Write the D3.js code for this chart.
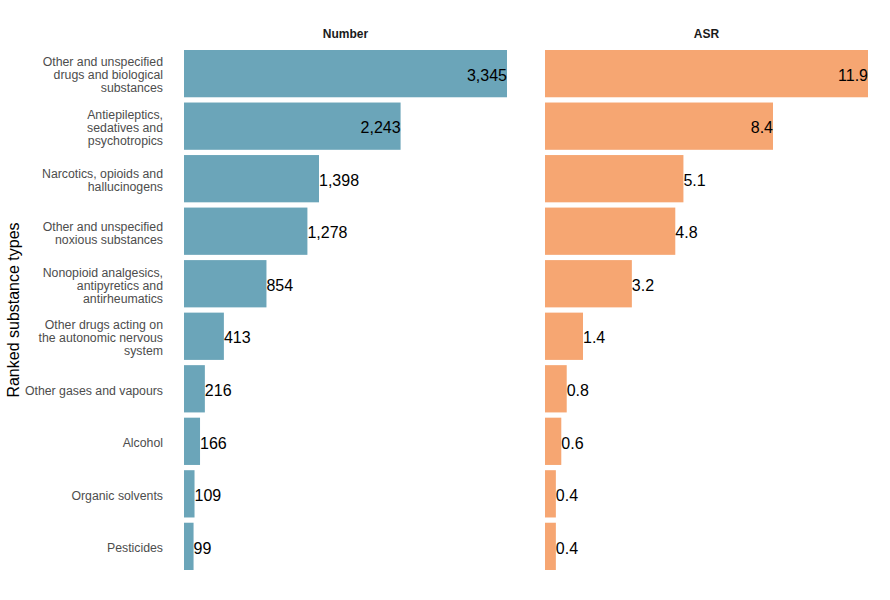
<!DOCTYPE html>
<html>
<head>
<meta charset="utf-8">
<script src="https://cdn.jsdelivr.net/npm/d3@7"></script>
<style>
  body { margin: 0; background: #fff; }
  text { font-family: "Liberation Sans", Arial, sans-serif; }
</style>
</head>
<body>
<div id="main"></div>
<script>
const ctx = {
    w: 890,
    h: 600,
};

const categories = [
    "Other and unspecified\ndrugs and biological\nsubstances",
    "Antiepileptics,\nsedatives and\npsychotropics",
    "Narcotics, opioids and\nhallucinogens",
    "Other and unspecified\nnoxious substances",
    "Nonopioid analgesics,\nantipyretics and\nantirheumatics",
    "Other drugs acting on\nthe autonomic nervous\nsystem",
    "Other gases and vapours",
    "Alcohol",
    "Organic solvents",
    "Pesticides"
];
const numberValues = [3345, 2243, 1398, 1278, 854, 413, 216, 166, 109, 99];
const asrValues = [11.9, 8.4, 5.1, 4.8, 3.2, 1.4, 0.8, 0.6, 0.4, 0.4];
const panelTitles = ["Number", "ASR"];
const yTitle = "Ranked substance types";

function drawPanel(svg, y, values, title, x0, x1, color, fmt) {
    let x = d3.scaleLinear()
        .domain([0, d3.max(values)])
        .range([x0, x1]);
    let g = svg.append("g");

    g.append("text")
        .attr("x", (x0 + x1) / 2)
        .attr("y", 38)
        .attr("text-anchor", "middle")
        .style("font-size", "12px")
        .style("font-weight", "bold")
        .style("fill", "#1a1a1a")
        .text(title);

    g.selectAll("rect")
        .data(values)
        .enter().append("rect")
        .attr("x", x(0))
        .attr("y", (d, i) => y(categories[i]))
        .attr("width", d => x(d) - x(0))
        .attr("height", y.bandwidth())
        .style("fill", color);

    let max = d3.max(values);
    g.selectAll(".val")
        .data(values)
        .enter().append("text")
        .attr("class", "val")
        .attr("x", d => x(d))
        .attr("y", (d, i) => y(categories[i]) + y.bandwidth() / 2)
        .attr("dy", "0.45em")
        .attr("text-anchor", d => d / max > 0.5 ? "end" : "start")
        .style("font-size", "16px")
        .style("fill", "#000")
        .text(d => fmt(d));
}

function createViz() {
    let svg = d3.select("#main").append("svg")
        .attr("width", ctx.w)
        .attr("height", ctx.h);

    let y = d3.scaleBand()
        .domain(categories)
        .range([50, 570])
        .paddingInner(0.1)
        .paddingOuter(0);

    // category labels
    let labels = svg.append("g").selectAll("text")
        .data(categories)
        .enter().append("text")
        .attr("text-anchor", "end")
        .style("font-size", "12.3px")
        .style("fill", "#4d4d4d");

    labels.each(function(d) {
        let lines = d.split("\n");
        let cy = y(d) + y.bandwidth() / 2 + 1.5;
        let lh = 13;
        let top = cy - (lines.length - 1) * lh / 2;
        d3.select(this).selectAll("tspan")
            .data(lines)
            .enter().append("tspan")
            .attr("x", 163)
            .attr("y", (l, i) => top + i * lh)
            .attr("dy", "0.35em")
            .text(l => l);
    });

    svg.append("text")
        .attr("transform", "translate(19," + 310 + ") rotate(-90)")
        .attr("text-anchor", "middle")
        .style("font-size", "16px")
        .style("fill", "#000")
        .text(yTitle);

    drawPanel(svg, y, numberValues, panelTitles[0], 184, 507, "#6ba5b9", d3.format(","));
    drawPanel(svg, y, asrValues, panelTitles[1], 545, 868, "#f6a672", d3.format(".1f"));
}

createViz();
</script>
</body>
</html>
